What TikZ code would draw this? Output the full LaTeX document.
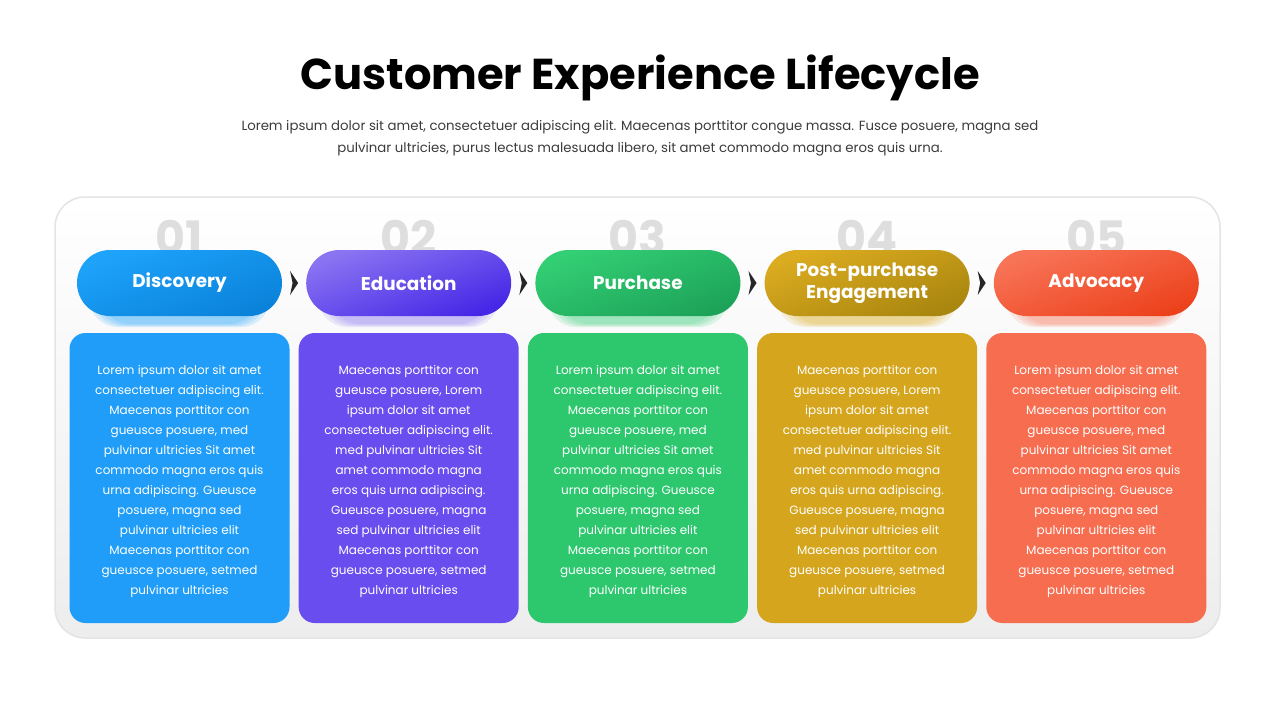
\documentclass[tikz,border=0pt]{standalone}
\usepackage{fontspec}
\setmainfont{Poppins}
\usetikzlibrary{calc,positioning}
\definecolor{blueA}{HTML}{1EA3FB}
\definecolor{blueB}{HTML}{0A82DA}
\definecolor{blueC}{HTML}{1F9DF8}
\definecolor{purpA}{HTML}{8A74F2}
\definecolor{purpB}{HTML}{4627E6}
\definecolor{purpC}{HTML}{6A4DEF}
\definecolor{grnA}{HTML}{33CF74}
\definecolor{grnB}{HTML}{1DA359}
\definecolor{grnC}{HTML}{2DC76E}
\definecolor{gldA}{HTML}{DCAC20}
\definecolor{gldB}{HTML}{A9860F}
\definecolor{gldC}{HTML}{D4A51D}
\definecolor{orgA}{HTML}{F87458}
\definecolor{orgB}{HTML}{EC421C}
\definecolor{orgC}{HTML}{F76D50}
\definecolor{numgray}{HTML}{DEDEDE}
\definecolor{subgray}{HTML}{3C3C3C}
\definecolor{framegray}{HTML}{E4E4E4}
\newcommand{\txtone}{Lorem ipsum dolor sit amet\\consectetuer adipiscing elit.\\Maecenas porttitor con\\gueusce posuere, med\\pulvinar ultricies Sit amet\\commodo magna eros quis\\urna adipiscing. Gueusce\\posuere, magna sed\\pulvinar ultricies elit\\Maecenas porttitor con\\gueusce posuere, setmed\\pulvinar ultricies}
\newcommand{\txttwo}{Maecenas porttitor con\\gueusce posuere, Lorem\\ipsum dolor sit amet\\consectetuer adipiscing elit.\\med pulvinar ultricies Sit\\amet commodo magna\\eros quis urna adipiscing.\\Gueusce posuere, magna\\sed pulvinar ultricies elit\\Maecenas porttitor con\\gueusce posuere, setmed\\pulvinar ultricies}
\tikzset{
    panel/.style={draw=framegray, line width=1.5pt, rounded corners=30pt,
                  top color=white, bottom color=black!7,
                  minimum width=1165pt, minimum height=441pt},
    pill/.style={rounded corners=33pt, minimum width=205pt, minimum height=66pt,
                 inner sep=0pt, align=center, text=white,
                 font=\bfseries\fontsize{18.4}{22.5}\selectfont},
    card/.style={rounded corners=16pt, minimum width=220pt, minimum height=290pt,
                 inner sep=0pt},
    cardtext/.style={align=center, text=white, inner sep=0pt,
                 font=\fontsize{12}{20}\selectfont},
    num/.style={text=numgray, font=\bfseries\fontsize{46}{46}\selectfont},
    chev/.style={fill=black!85},
}
\begin{document}
\begin{tikzpicture}[x=1pt,y=-1pt]
    \fill[white] (0,0) rectangle (1280,720);
    \useasboundingbox (0,0) rectangle (1280,720);
    % heading
    \node[font=\bfseries\fontsize{43.2}{48}\selectfont] (title) at (640,78) {Customer Experience Lifecycle};
    \node[text=subgray, align=center, font=\fontsize{13.3}{22}\selectfont] (sub) at (640,138)
        {Lorem ipsum dolor sit amet, consectetuer adipiscing elit. Maecenas porttitor congue massa. Fusce posuere, magna sed\\
         pulvinar ultricies, purus lectus malesuada libero, sit amet commodo magna eros quis urna.};
    \node[panel] (frame) at (637.5,417.5) {};
    % five stages
    \foreach \i/\n/\lab/\cA/\cB/\cC/\txt in {1/01/Discovery/blueA/blueB/blueC/\txtone,
            2/02/Education/purpA/purpB/purpC/\txttwo,
            3/03/Purchase/grnA/grnB/grnC/\txtone,
            4/04/{Post-purchase\\Engagement}/gldA/gldB/gldC/\txttwo,
            5/05/Advocacy/orgA/orgB/orgC/\txtone}
    {
        \pgfmathsetmacro{\cx}{179.5+(\i-1)*229.2}
        \node[num] (n\i) at (\cx,237) {\n};
        \node[card, fill=\cC] (c\i) at (\cx,478) {};
        \node[cardtext] (t\i) at ([yshift=-3pt]c\i.center) {\txt};
        \foreach \k in {1,...,4}
            \fill[\cA, opacity=.14, rounded corners=28pt]
                (\cx-94+\k*4,266+\k) rectangle (\cx+94-\k*4,328-\k);
        \node[pill, top color=\cA, bottom color=\cB, shading angle=20] (p\i) at (\cx,283) {\lab};
    }
    \foreach \i [evaluate=\i as \j using int(\i+1)] in {1,...,4}
        \fill[chev] ($(p\i.east)!.5!(p\j.west)$) ++(-4,-12) -- ++(8,12) -- ++(-8,12) -- ++(2.5,-12) -- cycle;
\end{tikzpicture}
\end{document}
